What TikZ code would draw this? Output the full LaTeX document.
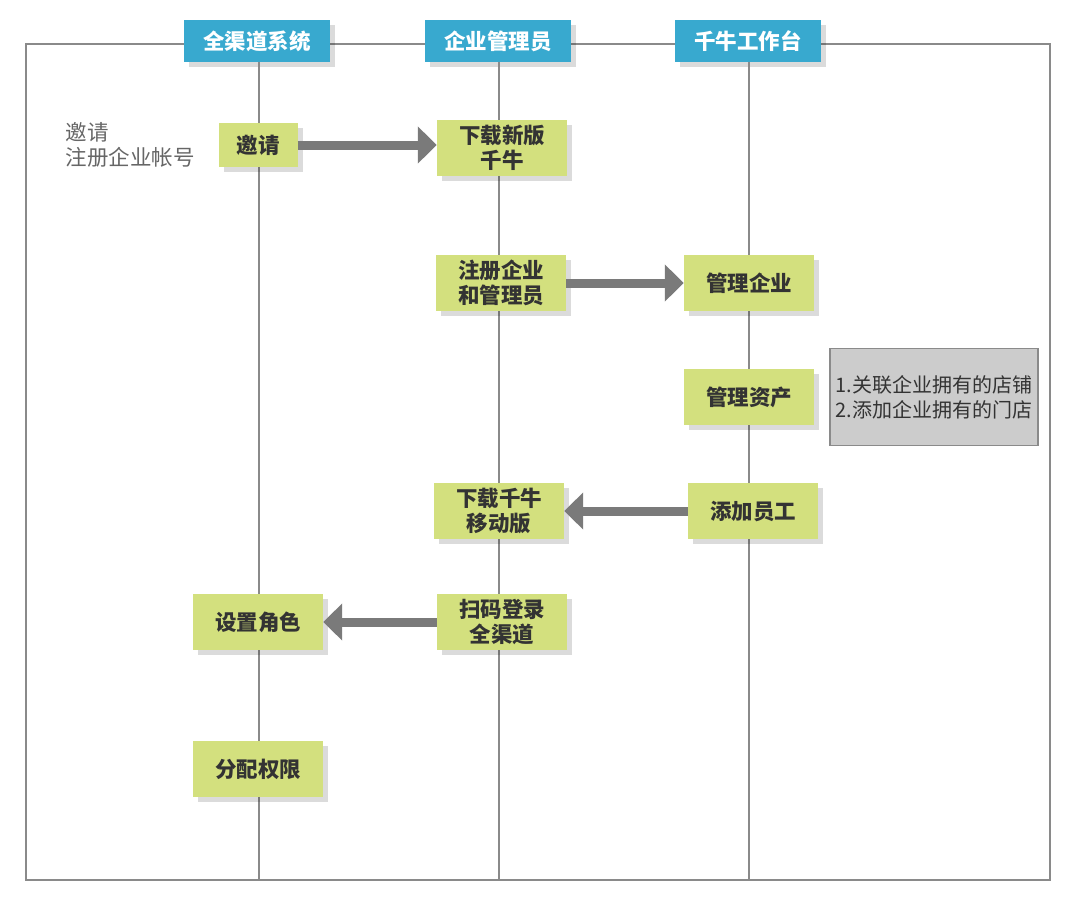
\documentclass[tikz,border=0pt]{standalone}
\usepackage{fontspec}
\setmainfont{Noto Sans CJK SC}
\usetikzlibrary{arrows.meta,shadows}

\definecolor{headblue}{HTML}{38A9CF}
\definecolor{taskgreen}{HTML}{D3E07E}
\definecolor{notegray}{HTML}{CCCCCC}
\definecolor{linegray}{HTML}{8A8A8A}
\definecolor{flowgray}{HTML}{7A7A7A}
\definecolor{textdark}{HTML}{333333}

\tikzset{
  softshadow/.style={drop shadow={shadow xshift=5pt,shadow yshift=-5pt,fill=black,opacity=.14}},
  lanehead/.style={fill=headblue,text=white,minimum width=146pt,minimum height=42pt,
    inner sep=0pt,font=\fontsize{21.5}{24}\selectfont\bfseries,softshadow},
  task/.style={fill=taskgreen,text=textdark,minimum width=130pt,minimum height=56pt,
    inner sep=0pt,align=center,font=\fontsize{21.5}{25}\selectfont\bfseries,softshadow},
  flow/.style={draw=flowgray,line width=9pt,-{Triangle[length=19pt,width=36pt]}},
}

\begin{document}
\begin{tikzpicture}[x=1pt,y=-1pt]
            \useasboundingbox (0,0) rectangle (1070,908);

            %cadre
            \draw[linegray,line width=1.2pt] (26,44) rectangle (1050,880);

            %couloirs
            \node[lanehead] (sys) at (257,41) {全渠道系统};
            \node[lanehead] (adm) at (498,41) {企业管理员};
            \node[lanehead] (qn) at (748,41) {千牛工作台};
            \coordinate (sysEnd) at (259,880);
            \coordinate (admEnd) at (499,880);
            \coordinate (qnEnd) at (749,880);
            \draw[linegray,line width=1.2pt] (sys.south -| sysEnd) -- (sysEnd);
            \draw[linegray,line width=1.2pt] (adm.south -| admEnd) -- (admEnd);
            \draw[linegray,line width=1.2pt] (qn.south -| qnEnd) -- (qnEnd);

            %remarque a gauche
            \node[anchor=west,align=left,text=black!60,font=\fontsize{21.5}{25}\selectfont] (memo) at (62,145) {邀请\\注册企业帐号};

            %etapes
            \node[task,minimum width=79pt,minimum height=44pt] (invite) at (258,145) {邀请};
            \node[task] (dlNew) at (502,148) {下载新版\\千牛};
            \node[task] (regist) at (501,283) {注册企业\\和管理员};
            \node[task] (manage) at (749,283) {管理企业};
            \node[task] (assets) at (749,397) {管理资产};
            \node[task] (staff) at (753,511) {添加员工};
            \node[task] (dlMob) at (499,511) {下载千牛\\移动版};
            \node[task] (scan) at (502,622) {扫码登录\\全渠道};
            \node[task] (role) at (258,622) {设置角色};
            \node[task] (perm) at (258,769) {分配权限};

            %note grise
            \node[draw=linegray,line width=1.2pt,fill=notegray,text=textdark,minimum width=208pt,minimum height=97pt,
              align=left,font=\fontsize{20}{25}\selectfont] (note) at (934,397) {1.关联企业拥有的店铺\\2.添加企业拥有的门店};

            %fleches
            \draw[flow] (invite.east) -- (invite.east -| dlNew.west);
            \draw[flow] (regist.east) -- (manage.west);
            \draw[flow] (staff.west) -- (dlMob.east);
            \draw[flow] (scan.west) -- (role.east);

\end{tikzpicture}
\end{document}
